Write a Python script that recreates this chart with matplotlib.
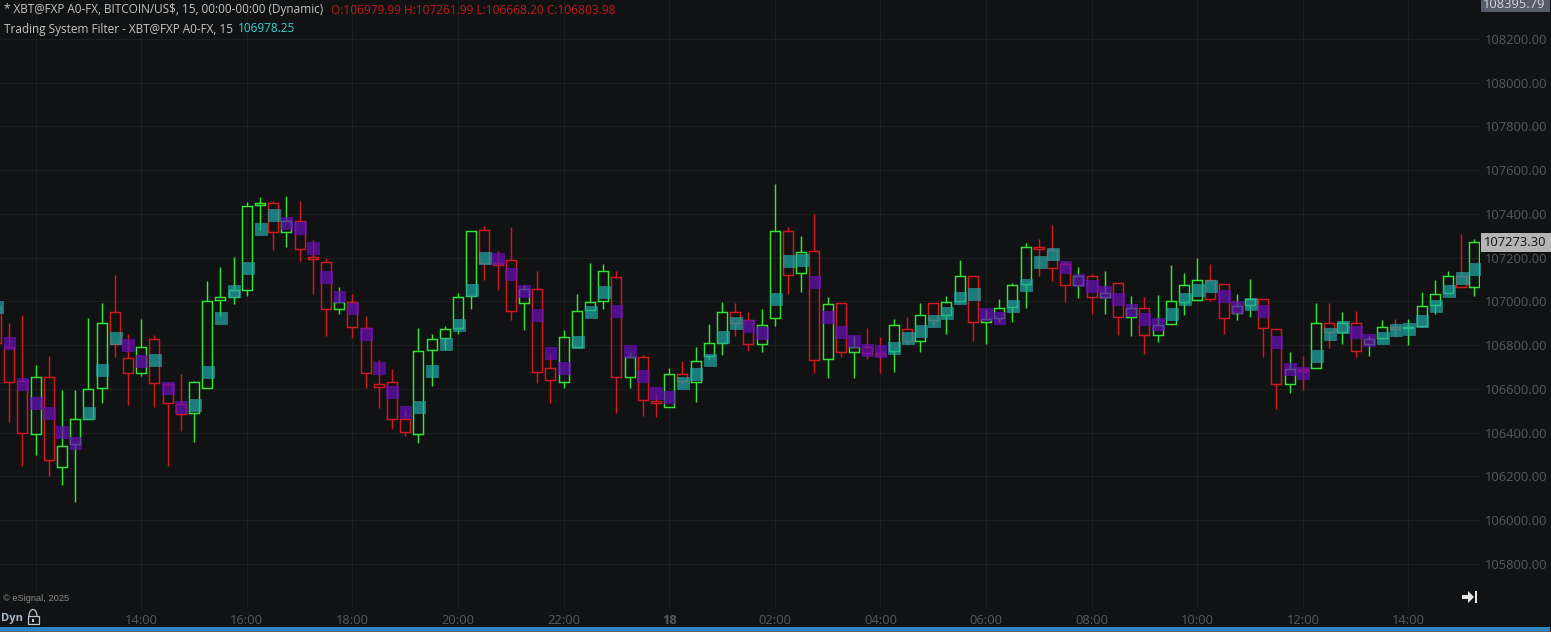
import numpy as np
import matplotlib
matplotlib.use("Agg")
import matplotlib.pyplot as plt
from matplotlib.patches import Rectangle, Polygon, Arc

# Candle values, 15 minute bars, first bar is cut by the left edge
opens = [106976, 106793, 106637, 106392, 106656, 106241, 106346, 106462, 106602, 106950,
         106739, 106674, 106826, 106621, 106529, 106488, 106602, 107005, 107021, 107050,
         107439, 107448, 107315, 107366, 107201, 107178, 106963, 106995, 106877, 106621,
         106630, 106462, 106392, 106776, 106831, 106877, 107023, 107325, 107174, 107187,
         106991, 107055, 106693, 106629, 106792, 106959, 107000, 107109, 106652, 106744,
         106542, 106515, 106666, 106629, 106748, 106808, 106949, 106913, 106804, 106923,
         107320, 107128, 107229, 106735, 106991, 106767, 106790, 106763, 106772, 106872,
         106817, 106991, 106936, 107000, 107115, 106904, 106922, 106973, 107078, 107247,
         107233, 107169, 107076, 107114, 107018, 107082, 106927, 106968, 106845, 106895,
         106996, 107005, 107096, 107078, 106945, 106982, 107009, 106872, 106621, 106689,
         106694, 106900, 106861, 106900, 106804, 106831, 106881, 106877, 106886, 106982,
         107037, 107114, 107064]
highs = [106990, 106899, 106936, 106707, 106750, 106595, 106595, 106922, 106991, 107120,
         106851, 106918, 106846, 106625, 106666, 106636, 107093, 107155, 107201, 107453,
         107475, 107459, 107482, 107459, 107280, 107197, 107066, 107034, 106933, 106732,
         106689, 106503, 106877, 106849, 106886, 107037, 107323, 107344, 107230, 107338,
         107074, 107138, 106757, 106869, 107033, 107173, 107169, 107138, 106767, 106754,
         106579, 106693, 106725, 106791, 106895, 106995, 106992, 106949, 106964, 107537,
         107340, 107299, 107400, 107019, 106991, 106840, 106877, 106836, 106918, 106927,
         106991, 106991, 107023, 107189, 107115, 106959, 107011, 107082, 107265, 107285,
         107349, 107183, 107159, 107124, 107139, 107082, 107025, 107018, 107029, 107166,
         107128, 107198, 107171, 107078, 107034, 107101, 107009, 106872, 106767, 106750,
         106991, 106991, 106950, 106954, 106840, 106913, 106918, 106918, 107041, 107096,
         107139, 107308, 107284]
lows = [106700, 106450, 106249, 106297, 106203, 106160, 106084, 106462, 106537, 106747,
        106526, 106659, 106518, 106249, 106409, 106358, 106602, 106933, 106989, 107026,
        107326, 107235, 107250, 107184, 107034, 106841, 106942, 106832, 106604, 106512,
        106416, 106384, 106354, 106614, 106776, 106852, 106966, 107098, 107052, 106914,
        106869, 106628, 106536, 106603, 106792, 106959, 106966, 106491, 106603, 106475,
        106471, 106515, 106620, 106541, 106731, 106754, 106841, 106774, 106769, 106887,
        107035, 107044, 106670, 106651, 106747, 106651, 106734, 106670, 106679, 106799,
        106766, 106891, 106852, 107000, 106819, 106807, 106907, 106907, 106971, 107117,
        107093, 106999, 107017, 106942, 106942, 106846, 106842, 106759, 106814, 106895,
        106938, 107005, 107002, 106851, 106915, 106927, 106746, 106508, 106580, 106595,
        106694, 106787, 106805, 106746, 106750, 106826, 106836, 106800, 106881, 106941,
        107037, 107064, 107023]
closes = [106808, 106630, 106396, 106656, 106273, 106340, 106460, 106598, 106899, 106803,
          106674, 106790, 106625, 106534, 106486, 106630, 107000, 107018, 107050, 107434,
          107448, 107315, 107366, 107241, 107192, 106963, 106995, 106881, 106671, 106607,
          106464, 106401, 106771, 106826, 106872, 107018, 107323, 107174, 107166, 106954,
          107055, 106675, 106639, 106835, 106954, 106995, 107137, 106652, 106744, 106547,
          106533, 106666, 106634, 106725, 106808, 106949, 106899, 106803, 106891, 107320,
          107119, 107224, 106731, 106987, 106767, 106790, 106763, 106756, 106891, 106817,
          106936, 106913, 106996, 107115, 106904, 106918, 106968, 107073, 107247, 107241,
          107151, 107073, 107114, 107018, 107037, 106927, 106968, 106845, 106890, 107000,
          107073, 107096, 107009, 106922, 106977, 107009, 106877, 106621, 106689, 106683,
          106900, 106861, 106900, 106772, 106826, 106881, 106875, 106881, 106977, 107032,
          107114, 107064, 107270]

# Trading System Filter, one square per bar, colour flag 1 = teal, 0 = purple
filter_vals = [106976, 106808, 106620, 106534, 106488, 106401, 106351, 106488, 106685, 106831,
               106799, 106726, 106730, 106601, 106515, 106524, 106675, 106922, 107046, 107151,
               107329, 107393, 107357, 107334, 107242, 107110, 107020, 106965, 106849, 106694,
               106584, 106492, 106515, 106680, 106803, 106890, 107050, 107197, 107194, 107123,
               107044, 106936, 106762, 106693, 106812, 106952, 107041, 106954, 106770, 106657,
               106579, 106561, 106625, 106666, 106730, 106837, 106899, 106884, 106854, 107009,
               107183, 107188, 107087, 106927, 106859, 106817, 106776, 106772, 106785, 106831,
               106863, 106909, 106945, 107014, 107032, 106941, 106921, 106977, 107073, 107178,
               107215, 107156, 107095, 107069, 107041, 107009, 106959, 106918, 106895, 106941,
               107009, 107050, 107069, 107023, 106973, 106986, 106954, 106813, 106689, 106671,
               106749, 106849, 106881, 106858, 106822, 106831, 106868, 106872, 106909, 106977,
               107046, 107105, 107146]
filter_up = [1, 0, 0, 0, 0, 0, 0, 1, 1, 1,
             0, 0, 1, 0, 0, 1, 1, 1, 1, 1,
             1, 1, 0, 0, 0, 0, 0, 0, 0, 0,
             0, 0, 1, 1, 1, 1, 1, 1, 0, 0,
             0, 0, 0, 0, 1, 1, 1, 0, 0, 0,
             0, 0, 1, 1, 1, 1, 1, 0, 0, 1,
             1, 1, 0, 0, 0, 0, 0, 0, 1, 1,
             1, 1, 1, 1, 1, 0, 0, 1, 1, 1,
             1, 0, 0, 0, 0, 0, 0, 0, 0, 1,
             1, 1, 1, 0, 0, 1, 0, 0, 0, 0,
             1, 1, 1, 0, 0, 1, 1, 1, 1, 1,
             1, 1, 1]

price_ticks = [105800, 106000, 106200, 106400, 106600, 106800, 107000,
               107200, 107400, 107600, 107800, 108000, 108200]
time_ticks = [-8, 0, 8, 16, 24, 32, 40, 48, 56, 64, 72, 80, 88, 96]
time_labels = ["", "14:00", "16:00", "18:00", "20:00", "22:00", "18", "02:00",
               "04:00", "06:00", "08:00", "10:00", "12:00", "14:00"]

BG = "#111213"
GRID = "#1c1e1f"
GREEN = "#35e535"
RED = "#d01a1f"
FONT = "Open Sans"

W, H = 1551, 632
fig = plt.figure(figsize=(W / 100, H / 100), dpi=100, facecolor=BG)

# chart area runs to x=1480, y=607
ax = fig.add_axes([0, 1 - 607 / H, 1480 / W, 607 / H], facecolor=BG)

bars = np.arange(-11, 102)
o = np.array(opens)
c = np.array(closes)
hi = np.array(highs)
lo = np.array(lows)
up = c >= o
colors = np.where(up, GREEN, RED)
top = np.maximum(o, c)
bottom = np.minimum(o, c)

ax.vlines(bars, top, hi, colors=colors, linewidth=1.05, zorder=3)
ax.vlines(bars, lo, bottom, colors=colors, linewidth=1.05, zorder=3)
ax.bar(bars, top - bottom, width=0.76, bottom=bottom, facecolor="none",
       edgecolor=colors, linewidth=1.05, zorder=3)

f = np.array(filter_vals)
f_up = np.array(filter_up) == 1
ax.scatter(bars[f_up] + 0.05, f[f_up], marker="s", s=80, facecolor="#20aaaa",
           edgecolor="#2f9fa8", linewidth=0.5, alpha=0.7, zorder=4)
ax.scatter(bars[~f_up] + 0.05, f[~f_up], marker="s", s=84, facecolor="#6610b6",
           edgecolor="none", alpha=0.72, zorder=4)

ax.set_xlim(-10.7, 101.42)
ax.set_ylim(105602, 108378)
ax.set_yticks(price_ticks)
ax.set_yticklabels(["%.2f" % p for p in price_ticks])
ax.yaxis.tick_right()
ax.set_xticks(time_ticks)
ax.set_xticklabels(time_labels)
ax.tick_params(length=0, labelcolor="#565a60", labelsize=9.3)
ax.tick_params(axis="y", pad=3.5)
ax.tick_params(axis="x", pad=5)
for lab in ax.get_xticklabels() + ax.get_yticklabels():
    lab.set_family(FONT)
ax.get_xticklabels()[6].set_fontweight("bold")
ax.grid(True, color=GRID, linewidth=0.8, zorder=0)
ax.set_axisbelow(True)
for s in ax.spines.values():
    s.set_visible(False)

# overlay in pixel units for the header text, price flags and icons
ov = fig.add_axes([0, 0, 1, 1], facecolor="none", zorder=10)
ov.set_xlim(0, W)
ov.set_ylim(H, 0)
ov.axis("off")

ov.text(3.5, 10, "* XBT@FXP A0-FX, BITCOIN/US$, 15, 00:00-00:00 (Dynamic)", color="#c6c6c6",
        fontsize=8.5, family=FONT, va="center")
ov.text(331, 10, "O:106979.99 H:107261.99 L:106668.20 C:106803.98", color="#c51a1a",
        fontsize=8.55, family=FONT, va="center")
ov.text(3.5, 29, "Trading System Filter - XBT@FXP A0-FX, 15", color="#c6c6c6",
        fontsize=8.5, family=FONT, va="center")
ov.text(237.5, 29, "106978.25", color="#2fd8d8", fontsize=8.5, family=FONT, va="center")

ov.add_patch(Rectangle((1481, -1), 69, 13, facecolor="#565c6c", edgecolor="none"))
ov.text(1545, 4, "108395.79", color="#d4d6da", fontsize=9.3, family=FONT, ha="right", va="center")
ov.add_patch(Rectangle((1481, 233), 70, 19, facecolor="#b4b4b4", edgecolor="none"))
ov.text(1546, 243, "107273.30", color="#111111", fontsize=9.3, family=FONT, ha="right", va="center")

ov.text(3, 598.5, "\u00a9 eSignal, 2025", color="#8a8a8a", fontsize=6.7, family="Liberation Sans", va="center")
ov.text(1, 618, "Dyn", color="#a9b8d0", fontsize=8, family=FONT, fontweight="bold", va="center")

# lock icon
ov.add_patch(Rectangle((27.5, 616), 11, 8, facecolor="none", edgecolor="#c0c6d0", linewidth=0.9))
ov.add_patch(Arc((33, 616), 8, 13, theta1=180, theta2=360, edgecolor="#c0c6d0", linewidth=0.9))
ov.add_patch(Rectangle((32, 619), 2, 3, facecolor="#c0c6d0", edgecolor="none"))

# scroll-to-end icon
ov.add_patch(Polygon([(1462, 595), (1468, 595), (1468, 591), (1474, 597),
                      (1468, 603), (1468, 599), (1462, 599)], facecolor="#e8e8e8", edgecolor="none"))
ov.add_patch(Rectangle((1475, 591), 2, 12, facecolor="#e8e8e8", edgecolor="none"))

# bottom window border
ov.add_patch(Rectangle((0, 627), W - 1, 3.5, facecolor="#2f86c4", edgecolor="none"))
ov.add_patch(Rectangle((0, 630.5), W, 2, facecolor="#5d626c", edgecolor="none"))

fig.savefig("out.png", dpi=100, facecolor=BG)
